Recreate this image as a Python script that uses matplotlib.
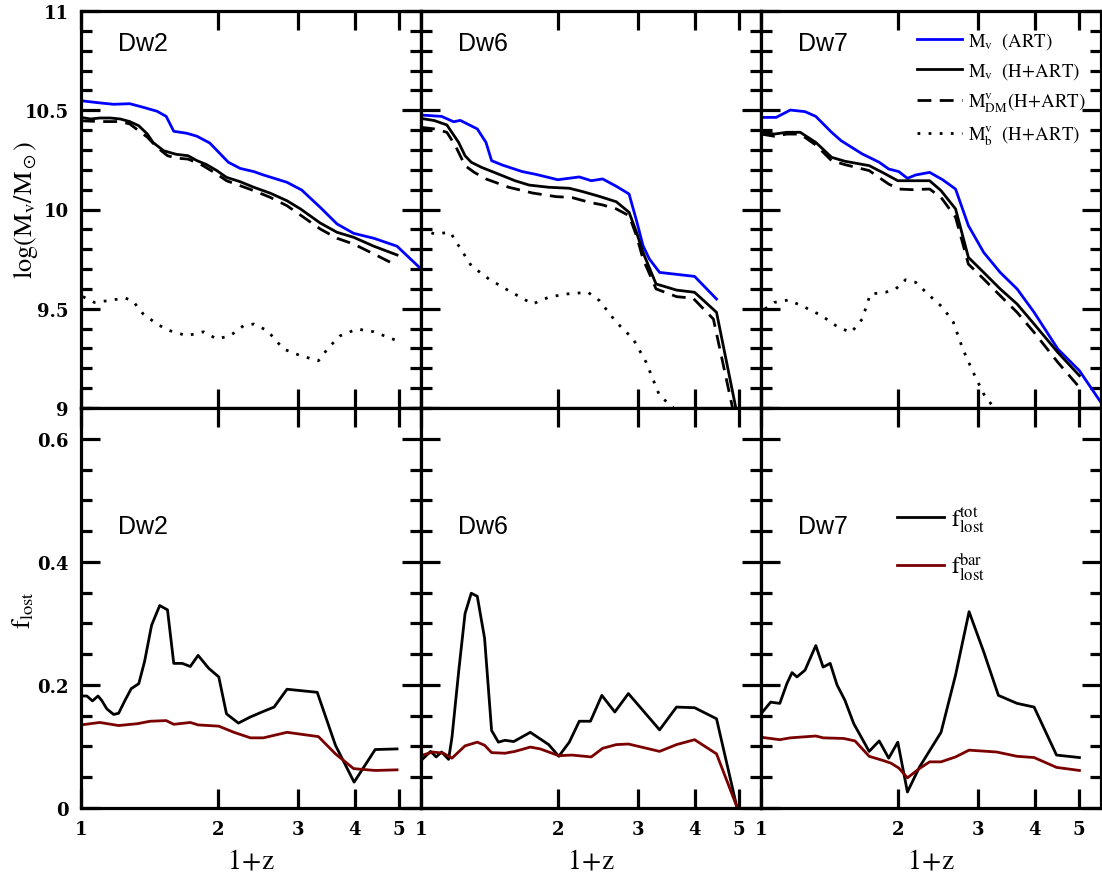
import numpy as np
import matplotlib
matplotlib.use('Agg')
import matplotlib.pyplot as plt
from matplotlib.lines import Line2D
from matplotlib.ticker import FixedLocator, MultipleLocator, NullLocator

plt.rcParams['mathtext.fontset'] = 'stix'
plt.rcParams['font.family'] = ['DejaVu Serif']

names = ['Dw2', 'Dw6', 'Dw7']

# ---- top row: log virial mass vs 1+z ----
# Dw2
x_art_dw2 = [1.0, 1.10, 1.18, 1.28, 1.37, 1.47, 1.54, 1.60, 1.71, 1.80, 1.92, 2.11, 2.24, 2.40,
             2.52, 2.84, 3.06, 3.36, 3.66, 3.98, 4.41, 4.96, 5.58]
m_art_dw2 = [10.548, 10.537, 10.530, 10.533, 10.515, 10.495, 10.469, 10.394, 10.384, 10.369,
             10.335, 10.238, 10.207, 10.191, 10.174, 10.137, 10.098, 10.011, 9.927, 9.880,
             9.855, 9.815, 9.704]
x_hart_dw2 = [1.0, 1.05, 1.10, 1.16, 1.22, 1.28, 1.34, 1.40, 1.44, 1.52, 1.62, 1.72, 1.80, 1.89,
              1.99, 2.09, 2.24, 2.40, 2.61, 2.84, 3.04, 3.36, 3.66, 3.98, 4.41, 4.96]
m_hart_dw2 = [10.464, 10.456, 10.461, 10.461, 10.456, 10.443, 10.422, 10.380, 10.338, 10.296,
              10.278, 10.271, 10.246, 10.226, 10.196, 10.162, 10.140, 10.112, 10.082, 10.044,
              10.003, 9.932, 9.885, 9.860, 9.815, 9.771]
x_dm_dw2 = [1.0, 1.10, 1.22, 1.28, 1.40, 1.47, 1.55, 1.62, 1.72, 1.83, 1.99, 2.09, 2.24, 2.40,
            2.61, 2.84, 3.04, 3.36, 3.66, 3.98, 4.41, 4.96]
m_dm_dw2 = [10.447, 10.443, 10.443, 10.431, 10.364, 10.313, 10.271, 10.259, 10.254, 10.229,
            10.179, 10.145, 10.120, 10.095, 10.061, 10.019, 9.972, 9.902, 9.855, 9.826,
            9.776, 9.717]
x_bar_dw2 = [1.01, 1.07, 1.14, 1.25, 1.30, 1.37, 1.47, 1.55, 1.71, 1.86, 1.99, 2.13, 2.28, 2.40,
             2.57, 2.79, 3.04, 3.33, 3.51, 3.72, 4.05, 4.41, 4.96]
m_bar_dw2 = [9.561, 9.532, 9.540, 9.554, 9.540, 9.474, 9.423, 9.393, 9.364, 9.384, 9.348,
             9.364, 9.415, 9.423, 9.390, 9.297, 9.264, 9.238, 9.306, 9.364, 9.398, 9.384, 9.339]

# Dw6
x_art_dw6 = [1.0, 1.11, 1.18, 1.22, 1.33, 1.39, 1.43, 1.51, 1.67, 1.79, 2.00, 2.23, 2.37, 2.51,
             2.69, 2.87, 2.98, 3.08, 3.18, 3.35, 4.00, 4.47]
m_art_dw6 = [10.476, 10.469, 10.442, 10.449, 10.406, 10.338, 10.246, 10.224, 10.191, 10.177,
             10.150, 10.164, 10.145, 10.154, 10.117, 10.078, 9.944, 9.818, 9.751, 9.683,
             9.663, 9.549]
x_hart_dw6 = [1.0, 1.07, 1.14, 1.21, 1.25, 1.29, 1.36, 1.46, 1.61, 1.73, 1.91, 2.12, 2.27, 2.47,
              2.69, 2.87, 2.98, 3.08, 3.29, 3.65, 4.00, 4.47, 4.95]
m_hart_dw6 = [10.459, 10.448, 10.426, 10.338, 10.271, 10.238, 10.212, 10.184, 10.145, 10.123,
              10.112, 10.107, 10.090, 10.066, 10.039, 9.986, 9.885, 9.784, 9.625, 9.594,
              9.583, 9.482, 8.98]
x_dm_dw6 = [1.0, 1.07, 1.14, 1.19, 1.25, 1.31, 1.39, 1.56, 1.76, 1.98, 2.15, 2.35, 2.51, 2.69,
            2.87, 2.98, 3.08, 3.29, 3.65, 3.97, 4.40, 4.87]
m_dm_dw6 = [10.414, 10.406, 10.389, 10.322, 10.221, 10.187, 10.154, 10.112, 10.083, 10.065,
            10.060, 10.036, 10.023, 10.003, 9.969, 9.868, 9.751, 9.600, 9.561, 9.553,
            9.448, 8.98]
x_bar_dw6 = [1.0, 1.07, 1.16, 1.21, 1.29, 1.41, 1.56, 1.76, 1.91, 2.08, 2.33, 2.47, 2.69, 2.93,
             3.13, 3.35, 3.59]
m_bar_dw6 = [9.902, 9.877, 9.885, 9.818, 9.717, 9.650, 9.591, 9.524, 9.558, 9.574, 9.583,
             9.541, 9.432, 9.348, 9.230, 9.062, 9.003]

# Dw7
x_art_dw7 = [1.0, 1.08, 1.16, 1.25, 1.32, 1.43, 1.50, 1.67, 1.82, 1.91, 2.01, 2.10, 2.19, 2.35,
             2.51, 2.68, 2.86, 3.09, 3.36, 3.66, 3.99, 4.50, 5.02, 5.66]
m_art_dw7 = [10.464, 10.464, 10.501, 10.493, 10.469, 10.389, 10.347, 10.280, 10.238, 10.204,
             10.191, 10.157, 10.174, 10.187, 10.150, 10.103, 9.919, 9.784, 9.683, 9.600,
             9.482, 9.297, 9.188, 9.012]
x_hart_dw7 = [1.0, 1.07, 1.14, 1.22, 1.32, 1.43, 1.53, 1.73, 1.85, 2.00, 2.15, 2.35, 2.49, 2.68,
              2.86, 3.09, 3.36, 3.66, 3.99, 4.50, 5.02]
m_hart_dw7 = [10.392, 10.380, 10.389, 10.389, 10.338, 10.263, 10.243, 10.221, 10.187, 10.145,
              10.145, 10.145, 10.095, 10.003, 9.759, 9.683, 9.600, 9.524, 9.423, 9.280, 9.163]
x_dm_dw7 = [1.0, 1.07, 1.14, 1.22, 1.32, 1.43, 1.53, 1.73, 1.91, 2.01, 2.15, 2.35, 2.49, 2.68,
            2.86, 3.09, 3.36, 3.66, 3.99, 4.50, 5.02]
m_dm_dw7 = [10.380, 10.369, 10.380, 10.380, 10.325, 10.246, 10.226, 10.196, 10.128, 10.103,
            10.100, 10.103, 10.061, 9.961, 9.725, 9.650, 9.566, 9.482, 9.381, 9.230, 9.104]
x_bar_dw7 = [1.02, 1.07, 1.15, 1.25, 1.36, 1.48, 1.58, 1.67, 1.74, 1.88, 1.98, 2.08, 2.19, 2.35,
             2.51, 2.65, 2.78, 2.93, 3.09, 3.25]
m_bar_dw7 = [9.499, 9.532, 9.544, 9.507, 9.465, 9.406, 9.381, 9.448, 9.574, 9.583, 9.600,
             9.646, 9.633, 9.566, 9.507, 9.432, 9.297, 9.180, 9.071, 9.003]

# ---- bottom row: lost fractions vs 1+z ----
x_tot_dw2 = [1.0, 1.03, 1.06, 1.09, 1.11, 1.14, 1.18, 1.21, 1.25, 1.29, 1.34, 1.38, 1.43, 1.49,
             1.55, 1.60, 1.67, 1.74, 1.81, 1.91, 2.01, 2.09, 2.22, 2.36, 2.52, 2.66, 2.84, 3.31,
             3.63, 3.99, 4.44, 4.96]
f_tot_dw2 = [0.182, 0.182, 0.174, 0.182, 0.175, 0.161, 0.152, 0.154, 0.175, 0.194, 0.202,
             0.238, 0.297, 0.329, 0.322, 0.235, 0.235, 0.230, 0.248, 0.227, 0.213, 0.153,
             0.138, 0.148, 0.157, 0.164, 0.193, 0.188, 0.102, 0.042, 0.095, 0.096]
x_bl_dw2 = [1.0, 1.10, 1.21, 1.33, 1.42, 1.54, 1.60, 1.74, 1.81, 2.01, 2.17, 2.36, 2.52, 2.84,
            3.33, 3.63, 3.98, 4.44, 4.96]
f_bl_dw2 = [0.135, 0.139, 0.134, 0.137, 0.141, 0.142, 0.136, 0.139, 0.135, 0.133, 0.123,
            0.114, 0.114, 0.123, 0.116, 0.088, 0.064, 0.061, 0.062]

x_tot_dw6 = [1.0, 1.05, 1.08, 1.11, 1.15, 1.17, 1.21, 1.25, 1.29, 1.33, 1.38, 1.43, 1.48, 1.53,
             1.60, 1.74, 1.91, 2.01, 2.12, 2.23, 2.36, 2.50, 2.67, 2.86, 3.35, 3.65, 4.00, 4.47,
             4.95]
f_tot_dw6 = [0.077, 0.092, 0.083, 0.091, 0.079, 0.115, 0.221, 0.316, 0.349, 0.344, 0.276,
             0.126, 0.107, 0.110, 0.108, 0.123, 0.103, 0.084, 0.107, 0.141, 0.141, 0.183,
             0.156, 0.186, 0.127, 0.164, 0.163, 0.145, 0.003]
x_bl_dw6 = [1.0, 1.06, 1.12, 1.17, 1.25, 1.33, 1.38, 1.43, 1.53, 1.61, 1.74, 1.83, 2.01, 2.15,
            2.37, 2.51, 2.69, 2.86, 3.35, 3.65, 4.00, 4.47, 4.95]
f_bl_dw6 = [0.085, 0.091, 0.089, 0.081, 0.101, 0.107, 0.102, 0.090, 0.089, 0.092, 0.099,
            0.096, 0.085, 0.086, 0.083, 0.097, 0.103, 0.104, 0.092, 0.103, 0.111, 0.088, 0.003]

x_tot_dw7 = [1.0, 1.05, 1.10, 1.14, 1.17, 1.20, 1.25, 1.32, 1.37, 1.42, 1.47, 1.53, 1.60, 1.73,
             1.82, 1.91, 2.00, 2.10, 2.23, 2.49, 2.68, 2.87, 3.09, 3.33, 3.66, 3.99, 4.47, 5.02]
f_tot_dw7 = [0.153, 0.172, 0.170, 0.202, 0.220, 0.213, 0.224, 0.264, 0.229, 0.235, 0.200,
             0.175, 0.137, 0.092, 0.109, 0.081, 0.107, 0.026, 0.066, 0.123, 0.216, 0.319,
             0.254, 0.183, 0.170, 0.164, 0.086, 0.082]
x_bl_dw7 = [1.0, 1.10, 1.16, 1.32, 1.37, 1.52, 1.61, 1.73, 1.86, 1.93, 2.01, 2.10, 2.23, 2.35,
            2.49, 2.68, 2.87, 3.30, 3.66, 3.99, 4.47, 5.02]
f_bl_dw7 = [0.115, 0.111, 0.114, 0.117, 0.114, 0.113, 0.109, 0.084, 0.077, 0.073, 0.065,
            0.049, 0.064, 0.075, 0.075, 0.083, 0.094, 0.091, 0.084, 0.082, 0.066, 0.061]

top_series = [
    (x_art_dw2, m_art_dw2, x_hart_dw2, m_hart_dw2, x_dm_dw2, m_dm_dw2, x_bar_dw2, m_bar_dw2),
    (x_art_dw6, m_art_dw6, x_hart_dw6, m_hart_dw6, x_dm_dw6, m_dm_dw6, x_bar_dw6, m_bar_dw6),
    (x_art_dw7, m_art_dw7, x_hart_dw7, m_hart_dw7, x_dm_dw7, m_dm_dw7, x_bar_dw7, m_bar_dw7),
]
bot_series = [
    (x_tot_dw2, f_tot_dw2, x_bl_dw2, f_bl_dw2),
    (x_tot_dw6, f_tot_dw6, x_bl_dw6, f_bl_dw6),
    (x_tot_dw7, f_tot_dw7, x_bl_dw7, f_bl_dw7),
]

W, H = 1102, 879
fig = plt.figure(figsize=(W / 100, H / 100), dpi=100)

lefts = [81, 421, 761]
pw = 340
lw = 2.0
spw = 2.3
tickfont = dict(family='DejaVu Serif', weight='bold', size=13)
blue = '#0000ff'
red = '#7a0000'
dash = (0, (5, 3))
dot = (0, (1, 3))


def style_axes(ax, ylo, yhi, ymaj, ymin, ylabels, show_x, show_y):
    ax.set_xscale('log')
    ax.set_xlim(1, 5.6)
    ax.set_ylim(ylo, yhi)
    ax.xaxis.set_major_locator(FixedLocator([1, 2, 3, 4, 5]))
    ax.xaxis.set_minor_locator(NullLocator())
    ax.yaxis.set_major_locator(FixedLocator(ymaj))
    ax.yaxis.set_minor_locator(MultipleLocator(ymin))
    ax.tick_params(which='both', direction='in', top=True, right=True, width=spw)
    ax.tick_params(which='major', length=14, pad=9)
    ax.tick_params(which='minor', length=8)
    for s in ax.spines.values():
        s.set_linewidth(spw)
    if show_x:
        ax.set_xticklabels(['1', '2', '3', '4', '5'], fontdict=tickfont)
    else:
        ax.set_xticklabels([])
    if show_y:
        ax.set_yticklabels(ylabels, fontdict=tickfont)
    else:
        ax.set_yticklabels([])


for i in range(3):
    xa, ya, xh, yh, xd, yd, xb, yb = top_series[i]
    ax = fig.add_axes([lefts[i] / W, (H - 409) / H, pw / W, 397 / H])
    ax.plot(xa, ya, color=blue, lw=lw)
    ax.plot(xh, yh, color='black', lw=lw)
    ax.plot(xd, yd, color='black', lw=lw, ls=dash)
    ax.plot(xb, yb, color='black', lw=lw, ls=dot)
    style_axes(ax, 9, 11, [9, 9.5, 10, 10.5, 11], 0.1,
               ['9', '9.5', '10', '10.5', '11'], False, i == 0)
    ax.text(0.109, 0.92, names[i], transform=ax.transAxes, fontsize=18,
            family='Liberation Sans', va='center', ha='left')
    if i == 2:
        handles = [Line2D([], [], color=blue, lw=lw),
                   Line2D([], [], color='black', lw=lw),
                   Line2D([], [], color='black', lw=lw, ls=dash),
                   Line2D([], [], color='black', lw=lw, ls=dot)]
        labels = [r'$\mathrm{M_v\ \ (ART)}$', r'$\mathrm{M_v\ \ (H\!+\!ART)}$',
                  r'$\mathrm{M^v_{DM}(H\!+\!ART)}$', r'$\mathrm{M^v_b\ \ (H\!+\!ART)}$']
        ax.legend(handles, labels, loc='upper left', bbox_to_anchor=(0.46, 0.952),
                  frameon=False, fontsize=13.5, handlelength=2.4, handletextpad=0.3,
                  labelspacing=0.5, borderpad=0, borderaxespad=0)

    xt, yt, xl, yl = bot_series[i]
    ax2 = fig.add_axes([lefts[i] / W, (H - 809) / H, pw / W, 400 / H])
    ax2.plot(xt, yt, color='black', lw=lw, label=r'$\mathrm{f^{tot}_{lost}}$')
    ax2.plot(xl, yl, color=red, lw=lw, label=r'$\mathrm{f^{bar}_{lost}}$')
    style_axes(ax2, 0, 0.65, [0, 0.2, 0.4, 0.6], 0.05,
               ['0', '0.2', '0.4', '0.6'], True, i == 0)
    ax2.text(0.109, 0.705, names[i], transform=ax2.transAxes, fontsize=18,
             family='Liberation Sans', va='center', ha='left')
    ax2.set_xlabel(r'$\mathrm{1\!+\!z}$', fontsize=20, labelpad=6)
    if i == 2:
        ax2.legend(loc='upper left', bbox_to_anchor=(0.40, 0.76), frameon=False,
                   fontsize=17, handlelength=2.0, handletextpad=0.3, labelspacing=0.7,
                   borderpad=0, borderaxespad=0)

fig.text(25 / W, 1 - 210 / H, r'$\mathrm{log(M_v/M_\odot)}$', rotation=90,
         fontsize=19, ha='center', va='center')
fig.text(23 / W, 1 - 610 / H, r'$\mathrm{f_{lost}}$', rotation=90,
         fontsize=19, ha='center', va='center')

fig.savefig('out.png', dpi=100)
